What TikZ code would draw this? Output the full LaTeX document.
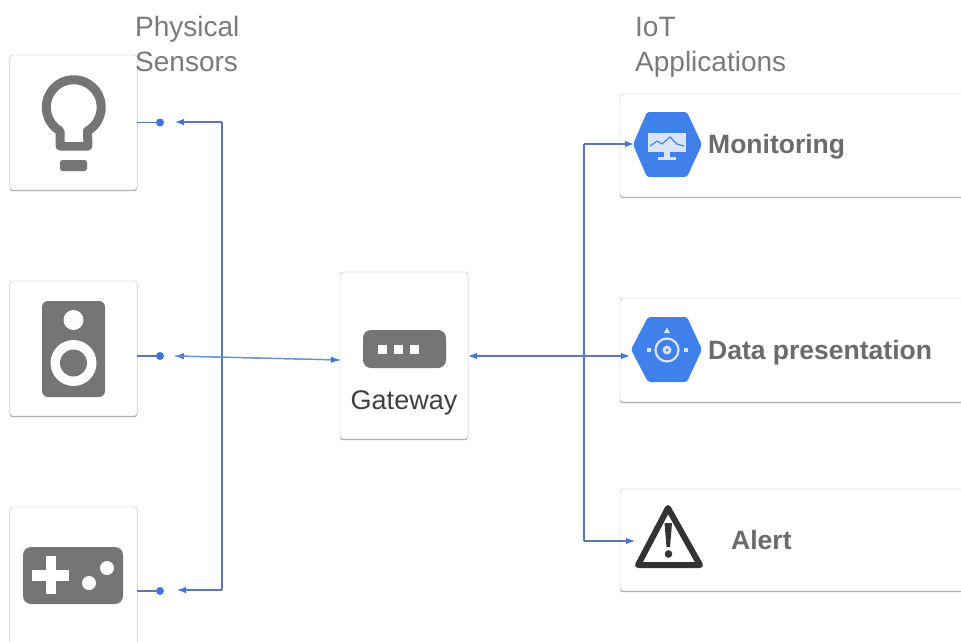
\documentclass[tikz,border=0pt]{standalone}
\usepackage{fontspec}
\setmainfont{Liberation Sans}
\usetikzlibrary{shadows,arrows.meta}
\definecolor{icongray}{HTML}{757575}
\definecolor{wireblue}{HTML}{5B78B5}
\definecolor{hexblue}{HTML}{3F80EA}
\definecolor{tipblue}{HTML}{3F74D8}

\begin{document}
\begin{tikzpicture}[x=1pt, y=-1pt,
    box/.style = {draw=black!28, fill=white, rounded corners=3pt, inner sep=0pt,
        drop shadow={shadow xshift=0pt, shadow yshift=-1.2pt, fill=black, opacity=0.35}},
    wire/.style = {draw=wireblue, line width=1.3pt},
    stub/.style = {draw=wireblue, line width=1.8pt},
    endtip/.style = {-{Latex[length=9pt, width=6.5pt, color=tipblue]}},
    stubdot/.style = {circle, fill=tipblue, inner sep=0pt, minimum size=8pt},
    heading/.style = {text=black!52, font=\fontsize{28}{28}\selectfont, anchor=base west, inner sep=0pt},
    applabel/.style = {text=black!58, font=\fontsize{26.5}{26.5}\selectfont\bfseries, anchor=base west, inner sep=0pt}]
    \useasboundingbox (0,0) rectangle (961,641);

    % Sensor boxes
    \node[box, minimum width=127.5pt, minimum height=135pt] (bulb) at (73.5,122.5) {};
    \node[box, minimum width=127.5pt, minimum height=135pt] (speaker) at (73.5,348.5) {};
    \node[box, minimum width=127.5pt, minimum height=168pt] (game) at (73.5,591) {};

    % Gateway and application boxes
    \node[box, minimum width=128pt, minimum height=167pt] (gateway) at (404,355.5) {};
    \node[box, minimum width=380pt, minimum height=103pt] (monitor) at (810,145.5) {};
    \node[box, minimum width=380pt, minimum height=104pt] (present) at (810,350) {};
    \node[box, minimum width=380pt, minimum height=102pt] (alert) at (810,540) {};

    % Headings
    \node[heading] (phys) at (135,36.5) {Physical};
    \node[heading] (sens) at (135,71) {Sensors};
    \node[heading] (iot) at (635,36.5) {IoT};
    \node[heading] (apps) at (635,71) {Applications};

    % Bulb
    \draw[icongray, line width=9pt, line join=round] (60,131) arc[start angle=120, end angle=420, radius=27.5] -- (88,146) -- (60,146) -- cycle;
    \fill[white] (65,133) rectangle (83,141.5);
    \fill[icongray, rounded corners=2.5pt] (60,160) rectangle (87,171);

    % Speaker
    \fill[icongray, rounded corners=6pt] (42,301) rectangle (105,397);
    \fill[white] (73.5,320) circle (10);
    \fill[white] (73.5,363) circle (23);
    \fill[icongray] (73.5,363) circle (13.5);

    % Game pad
    \fill[icongray, rounded corners=8pt] (23,547) rectangle (123,604);
    \fill[white] (32,570) rectangle (69,580.5);
    \fill[white] (45.5,556) rectangle (56,594);
    \fill[white] (89,583) circle (7);
    \fill[white] (107,568) circle (7);

    % Gateway icon
    \fill[icongray, rounded corners=8pt] (363,330) rectangle (446,368);
    \foreach \sx in {382,398,414}
        \fill[white] (\sx-4.5,344.5) rectangle (\sx+4.5,353.5);
    \node[text=black!75, font=\fontsize{27}{27}\selectfont, anchor=base, inner sep=0pt] (gwname) at (404,409) {Gateway};

    % Monitoring icon
    \fill[hexblue, rounded corners=2pt] (633,144.5) -- (647,112) -- (687,112) -- (702,144.5) -- (687,177) -- (647,177) -- cycle;
    \fill[white!80!hexblue] (648,133) rectangle (686,152);
    \fill[white!80!hexblue] (664,152) rectangle (670,157);
    \fill[white!80!hexblue] (658,157) rectangle (676,159.5);
    \draw[hexblue, line width=1.1pt] (650,146) -- (657,141) -- (662,144) -- (670,137) -- (677,144) -- (684,146);
    \node[applabel] (mon) at (708,153) {Monitoring};

    % Data presentation icon
    \fill[hexblue, rounded corners=2pt] (631,349.5) -- (648,317) -- (687,317) -- (702,349.5) -- (687,382) -- (648,382) -- cycle;
    \draw[white!80!hexblue, line width=2.2pt] (667,350) circle (11.5);
    \fill[white!80!hexblue] (667,350) circle (4.5);
    \fill[hexblue] (667,350) circle (1.5);
    \fill[white!80!hexblue] (667,327.5) -- (670,333) -- (664,333) -- cycle;
    \fill[white!80!hexblue] (647,347.5) rectangle (651,352);
    \fill[white!80!hexblue] (684,347.5) rectangle (688,352);
    \node[applabel] (dat) at (708,359) {Data presentation};

    % Alert icon
    \draw[black!80, line width=6pt, line join=round] (668,508) -- (700,565) -- (638,565) -- cycle;
    \fill[black!80] (664.5,523) -- (672,523) -- (670,547) -- (666.5,547) -- cycle;
    \fill[black!80] (668.5,554) circle (3.8);
    \node[applabel] (alertname) at (731,549) {Alert};

    % Dots and arrow ends
    \node[stubdot] (bulbdot) at (160,122.5) {};
    \node[stubdot] (speakerdot) at (160,356) {};
    \node[stubdot] (gamedot) at (160,591) {};
    \coordinate (bulbtip) at (175,122);
    \coordinate (speakertip) at (175,356);
    \coordinate (gametip) at (177,590);
    \coordinate (montip) at (634,144);
    \coordinate (dattip) at (630,356);
    \coordinate (alerttip) at (635,541);
    \coordinate (gwleft) at (340,360);
    \coordinate (gwright) at (468,356);

    % Left connectors
    \draw[stub] (bulb.east) -- (bulbdot);
    \draw[stub] (speaker.east |- speakerdot) -- (speakerdot);
    \draw[stub] (game.east) -- (gamedot);
    \draw[wire, endtip] (222,122) -- (bulbtip);
    \draw[wire, endtip] (222,590) -- (gametip);
    \draw[wire] (222,122) -- (222,590);
    \draw[draw=tipblue!80, line width=1.2pt, endtip] (gwleft) -- (speakertip);
    \draw[draw=tipblue!80, line width=1.2pt, endtip] (speakertip) -- (gwleft);

    % Right connectors
    \draw[wire, endtip] (584,356) -- (gwright);
    \draw[wire, endtip] (584,356) -- (dattip);
    \draw[wire, endtip] (584,144) -- (montip);
    \draw[wire, endtip] (584,541) -- (alerttip);
    \draw[wire] (584,144) -- (584,541);
\end{tikzpicture}
\end{document}
